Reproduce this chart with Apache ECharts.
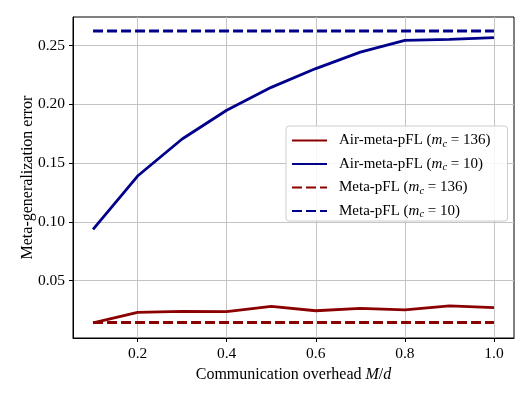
<!DOCTYPE html>
<html>
<head>
<meta charset="utf-8">
<script src="https://cdn.jsdelivr.net/npm/echarts@6/dist/echarts.min.js"></script>
<style>
  html, body { margin: 0; padding: 0; background: #fff; }
  #chart { width: 531px; height: 399px; }
</style>
</head>
<body>
<div id="chart"></div>
<script>
// communication overhead M/d
const overhead = [0.1, 0.2, 0.3, 0.4, 0.5, 0.6, 0.7, 0.8, 0.9, 1.0];
const airMeta136 = [0.0139, 0.0230, 0.0238, 0.0236, 0.0281, 0.0243, 0.0264, 0.0251, 0.0284, 0.0270];
const airMeta10 = [0.0935, 0.1390, 0.1705, 0.1950, 0.2145, 0.2305, 0.2445, 0.2545, 0.2553, 0.2568];
const meta136 = [0.0143, 0.0143, 0.0143, 0.0143, 0.0143, 0.0143, 0.0143, 0.0143, 0.0143, 0.0143];
const meta10 = [0.2625, 0.2625, 0.2625, 0.2625, 0.2625, 0.2625, 0.2625, 0.2625, 0.2625, 0.2625];
const xTicks = [0.2, 0.4, 0.6, 0.8, 1.0];
const yTicks = [0.05, 0.10, 0.15, 0.20, 0.25];

const font = "Liberation Serif";
const red = "#8b0000";
const blue = "#00008b";

function pairs(ys) {
  return overhead.map((x, i) => [x, ys[i]]);
}

// legend names -> rich text with subscript c
const legendRich = {
  t: { fontFamily: font, fontSize: 15, color: "#000", lineHeight: 18, verticalAlign: "middle" },
  i: { fontFamily: font, fontSize: 15, fontStyle: "italic", color: "#000", lineHeight: 18, verticalAlign: "middle" },
  s: { fontFamily: font, fontSize: 10.5, fontStyle: "italic", color: "#000", lineHeight: 18, verticalAlign: "bottom" }
};
function legendLabel(name) {
  const m = name.match(/^(.*)\(m_c=(\d+)\)$/);
  return "{t|" + m[1] + "(}{i|m}{s|c}{t| = " + m[2] + ")}";
}

const chart = echarts.init(document.getElementById("chart"));
chart.setOption({
  animation: false,
  backgroundColor: "#fff",
  grid: {
    left: 73, right: 17, top: 17, bottom: 61,
    show: true, borderColor: "#000", borderWidth: 1, backgroundColor: "transparent"
  },
  legend: {
    orient: "vertical",
    left: 286,
    top: 126,
    padding: [7, 17, 1, 5],
    itemWidth: 35,
    itemHeight: 14,
    itemGap: 7,
    backgroundColor: "rgba(255,255,255,0.85)",
    borderColor: "#cccccc",
    borderWidth: 1,
    borderRadius: 3,
    itemStyle: { opacity: 0 },
    formatter: legendLabel,
    textStyle: { fontFamily: font, fontSize: 15, padding: [0, 0, 0, 7], rich: legendRich },
    data: [
      "Air-meta-pFL (m_c=136)",
      "Air-meta-pFL (m_c=10)",
      "Meta-pFL (m_c=136)",
      "Meta-pFL (m_c=10)"
    ]
  },
  xAxis: {
    type: "value",
    min: 0.055,
    max: 1.045,
    name: "Communication overhead {i|M}/{i|d}",
    nameLocation: "middle",
    nameGap: 26,
    nameTextStyle: {
      fontFamily: font, fontSize: 16, color: "#000",
      rich: { i: { fontFamily: font, fontSize: 16, fontStyle: "italic", color: "#000" } }
    },
    axisLine: { show: true, onZero: false, lineStyle: { color: "#000", width: 1 } },
    axisTick: { show: true, inside: false, length: 4, customValues: xTicks, lineStyle: { color: "#000" } },
    axisLabel: {
      customValues: xTicks, margin: 8, color: "#000", fontFamily: font, fontSize: 15.5,
      formatter: v => v.toFixed(1)
    },
    splitLine: { show: true, lineStyle: { color: "#c4c4c4", width: 1 } }
  },
  yAxis: {
    type: "value",
    min: 0.0011,
    max: 0.2744,
    name: "Meta-generalization error",
    nameLocation: "middle",
    nameGap: 37,
    nameMoveOverlap: false,
    nameTextStyle: { fontFamily: font, fontSize: 16, color: "#000" },
    axisLine: { show: true, onZero: false, lineStyle: { color: "#000", width: 1 } },
    axisTick: { show: true, inside: false, length: 4, customValues: yTicks, lineStyle: { color: "#000" } },
    axisLabel: {
      customValues: yTicks, margin: 8, color: "#000", fontFamily: font, fontSize: 15.5,
      formatter: v => v.toFixed(2)
    },
    splitLine: { show: true, lineStyle: { color: "#c4c4c4", width: 1 } }
  },
  series: [
    {
      name: "Air-meta-pFL (m_c=136)", type: "line", data: pairs(airMeta136),
      symbol: "none", lineStyle: { color: red, width: 2.8 }, itemStyle: { color: red }, z: 4
    },
    {
      name: "Air-meta-pFL (m_c=10)", type: "line", data: pairs(airMeta10),
      symbol: "none", lineStyle: { color: blue, width: 2.8 }, itemStyle: { color: blue }, z: 4
    },
    {
      name: "Meta-pFL (m_c=136)", type: "line", data: pairs(meta136),
      symbol: "none", lineStyle: { color: red, width: 2.8, type: [10, 4] }, itemStyle: { color: red }, z: 3
    },
    {
      name: "Meta-pFL (m_c=10)", type: "line", data: pairs(meta10),
      symbol: "none", lineStyle: { color: blue, width: 2.8, type: [10, 4] }, itemStyle: { color: blue }, z: 3
    }
  ]
});
</script>
</body>
</html>
